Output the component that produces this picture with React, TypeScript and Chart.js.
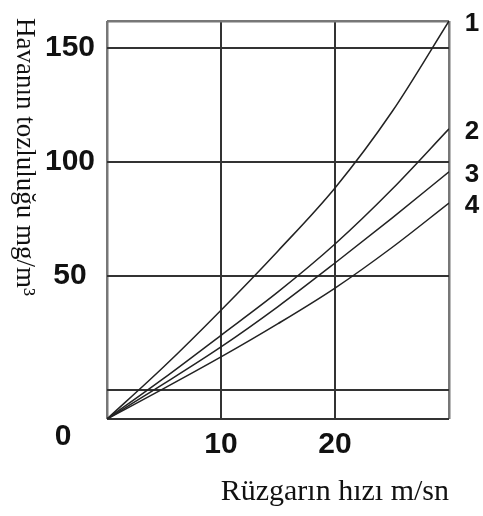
import { useEffect, useRef } from 'react';
import { Chart, registerables } from 'chart.js';

Chart.register(...registerables);

// Wind speed (m/s) at which the curves were read
const windSpeed = [0, 5, 10, 15, 20, 25, 30];
// Dust concentration curves (mg/m³)
const curve1 = [-12.7, 10.3, 35, 61, 88.6, 122, 161.8];
const curve2 = [-12.7, 5.2, 24, 43, 64, 88, 114.5];
const curve3 = [-12.7, 2.8, 18.9, 36.6, 55.7, 75.4, 95.7];
const curve4 = [-12.7, 0.7, 14.5, 29.1, 44.7, 62.5, 82];
const seriesNames = ['1', '2', '3', '4'];

const xTickValues = [0, 10, 20, 30];
const xTickLabels = ['', '10', '20', ''];
const yTickValues = [-12.7, 0, 50, 100, 150, 161.8];
const yTickLabels = ['', '', '50', '100', '150', ''];
const originLabel = '0';
const xTitle = 'Rüzgarın hızı m/sn';
const yTitle = 'Havanın tozluluğu mg/m³';

const annotations = {
  id: 'annotations',
  afterDatasetsDraw(chart: any) {
    const { ctx, chartArea } = chart;
    ctx.save();
    ctx.fillStyle = '#111';
    ctx.textAlign = 'center';
    ctx.textBaseline = 'middle';
    ctx.font = 'bold 26px "Liberation Sans"';
    chart.data.datasets.forEach((ds: any, i: number) => {
      const meta = chart.getDatasetMeta(i);
      const last = meta.data[meta.data.length - 1];
      ctx.fillText(ds.label, chartArea.right + 23, last.y + 3);
    });
    ctx.font = 'bold 30px "Liberation Sans"';
    ctx.fillText(originLabel, chartArea.left - 44, chartArea.bottom + 18);
    ctx.font = '27px "Liberation Serif"';
    ctx.translate(24, chartArea.top - 3);
    ctx.rotate(Math.PI / 2);
    ctx.textAlign = 'left';
    ctx.fillText(yTitle, 0, 0);
    ctx.restore();
  },
};

export default function App() {
  const ref = useRef<HTMLCanvasElement>(null);
  useEffect(() => {
    if (!ref.current) return;
    const mk = (label: string, data: number[]) => ({
      label,
      data: windSpeed.map((x, i) => ({ x, y: data[i] })),
      borderColor: '#222',
      borderWidth: 1.5,
      pointRadius: 0,
      fill: false,
      cubicInterpolationMode: 'monotone' as const,
    });
    const chart = new Chart(ref.current, {
      type: 'line',
      data: {
        datasets: [
          mk(seriesNames[0], curve1),
          mk(seriesNames[1], curve2),
          mk(seriesNames[2], curve3),
          mk(seriesNames[3], curve4),
        ],
      },
      options: {
        animation: false,
        responsive: false,
        devicePixelRatio: 1,
        layout: { padding: { left: 45, top: 21, right: 34, bottom: 0 } },
        plugins: { legend: { display: false }, tooltip: { enabled: false } },
        scales: {
          x: {
            type: 'linear',
            min: 0,
            max: 30,
            afterBuildTicks: (s: any) => {
              s.ticks = xTickValues.map((v) => ({ value: v }));
            },
            afterFit: (s: any) => {
              s.height = 97;
              s.paddingLeft = 0;
              s.paddingRight = 0;
            },
            border: { display: false },
            grid: {
              drawTicks: false,
              color: (c: any) => (c.tick && (c.tick.value === 0 || c.tick.value === 30) ? '#777' : '#333'),
              lineWidth: (c: any) => (c.tick && (c.tick.value === 0 || c.tick.value === 30) ? 2.5 : 2),
            },
            ticks: {
              padding: 8,
              color: '#111',
              font: { family: 'Liberation Sans', size: 30, weight: 'bold' },
              callback: (v: any) => {
                const i = xTickValues.indexOf(Number(v));
                return i >= 0 ? xTickLabels[i] : '';
              },
            },
            title: {
              display: true,
              text: xTitle,
              align: 'end',
              color: '#111',
              font: { family: 'Liberation Serif', size: 30 },
              padding: { top: 0, bottom: 6 },
            },
          },
          y: {
            type: 'linear',
            min: yTickValues[0],
            max: yTickValues[yTickValues.length - 1],
            afterBuildTicks: (s: any) => {
              s.ticks = yTickValues.map((v) => ({ value: v }));
            },
            afterFit: (s: any) => {
              s.width = 62;
              s.paddingTop = 0;
              s.paddingBottom = 0;
            },
            border: { display: false },
            grid: {
              drawTicks: false,
              color: (c: any) => (c.tick && c.tick.value === yTickValues[yTickValues.length - 1] ? '#777' : '#333'),
              lineWidth: (c: any) => (c.tick && c.tick.value === yTickValues[yTickValues.length - 1] ? 2.5 : 2),
            },
            ticks: {
              padding: 12,
              crossAlign: 'center',
              color: '#111',
              font: { family: 'Liberation Sans', size: 30, weight: 'bold' },
              callback: (v: any) => {
                const i = yTickValues.indexOf(Number(v));
                return i >= 0 ? yTickLabels[i] : '';
              },
            },
          },
        },
      },
      plugins: [annotations],
    });
    return () => chart.destroy();
  }, []);
  return (
    <div style={{ position: 'fixed', left: 0, top: 0, width: 483, height: 516, background: '#fff' }}>
      <canvas ref={ref} width={483} height={516} />
    </div>
  );
}
